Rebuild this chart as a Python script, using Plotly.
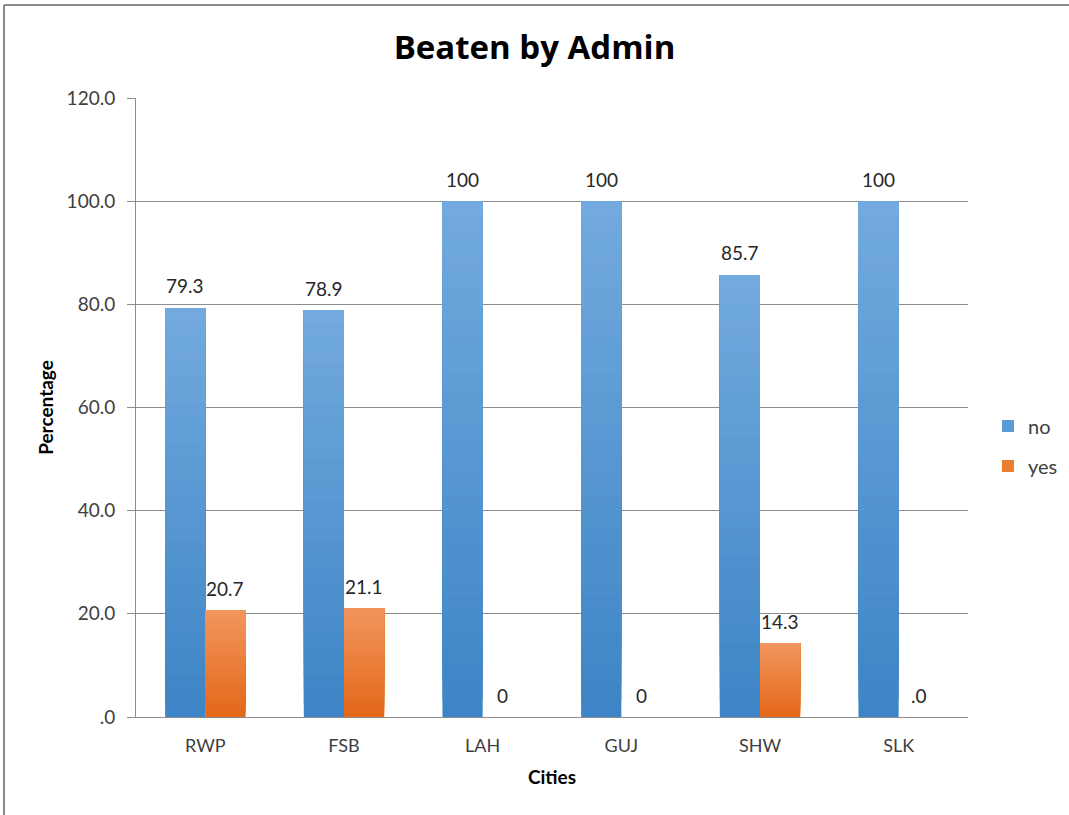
import plotly.graph_objects as go

# Survey results: share of respondents beaten by admin, per city
cities = ["RWP", "FSB", "LAH", "GUJ", "SHW", "SLK"]
no_pct = [79.3, 78.9, 100, 100, 85.7, 100]
yes_pct = [20.7, 21.1, 0, 0, 14.3, 0]
no_labels = ["79.3", "78.9", "100", "100", "85.7", "100"]
yes_labels = ["20.7", "21.1", "0", "0", "14.3", ".0"]
y_ticks = [0, 20, 40, 60, 80, 100, 120]
y_tick_labels = [".0", "20.0", "40.0", "60.0", "80.0", "100.0", "120.0"]

FONT = "Lato, 'Open Sans', sans-serif"
GRID = "#8c8c8c"
TEXT = "#262626"

# Vertical gradient per bar (light at the top, darker at the base)
SERIES = [
    dict(name="no", values=no_pct, labels=no_labels,
         top=(114, 169, 222), bottom=(61, 133, 198), legend=(91, 155, 213), shift=-20),
    dict(name="yes", values=yes_pct, labels=yes_labels,
         top=(241, 149, 92), bottom=(228, 104, 26), legend=(237, 125, 49), shift=20),
]
N_STEPS = 30


def rgb(c):
    return "rgb({},{},{})".format(*c)


def mix(c0, c1, t):
    return rgb([round(a + (b - a) * t) for a, b in zip(c0, c1)])


fig = go.Figure()
for s in SERIES:
    vals = s["values"]
    # legend entry (zero-height bars sharing the series' offset group)
    fig.add_trace(go.Bar(
        x=cities, y=[0] * len(cities), name=s["name"], legendgroup=s["name"],
        offsetgroup=s["name"], marker=dict(color=rgb(s["legend"]), line=dict(width=0)),
        showlegend=True, hoverinfo="skip",
    ))
    # each band runs from its start up to the bar's top; later (lighter)
    # bands are painted over earlier ones, so no seams appear between them
    for k in range(N_STEPS):
        t = k / (N_STEPS - 1)
        fig.add_trace(go.Bar(
            x=cities,
            y=[v * (N_STEPS - k) / N_STEPS for v in vals],
            base=[v * k / N_STEPS for v in vals],
            offsetgroup=s["name"], legendgroup=s["name"], showlegend=False,
            marker=dict(color=mix(s["bottom"], s["top"], t), line=dict(width=0)),
            hoverinfo="skip",
        ))

# Value labels above each bar
annotations = []
for s in SERIES:
    for c, v, lab in zip(cities, s["values"], s["labels"]):
        annotations.append(dict(
            x=c, y=v, xref="x", yref="y", text=lab, showarrow=False,
            xshift=s["shift"], yshift=22, yanchor="middle", xanchor="center",
            font=dict(size=19, color=TEXT, family=FONT),
        ))

# Outer frame lines (top and left edges)
L, R, T, B = 136, 101, 98, 98
W, H = 1069, 815
pw, ph = W - L - R, H - T - B


def px_x(x):
    return (x - L) / pw


def px_y(y):
    return (H - B - y) / ph


shapes = [
    dict(type="line", xref="paper", yref="paper",
         x0=px_x(4), x1=px_x(W), y0=px_y(5), y1=px_y(5),
         line=dict(color="#8a8a8a", width=2)),
    dict(type="line", xref="paper", yref="paper",
         x0=px_x(4), x1=px_x(4), y0=px_y(5), y1=px_y(H),
         line=dict(color="#8a8a8a", width=2)),
]

fig.update_layout(
    width=W, height=H,
    margin=dict(l=L, r=R, t=T, b=B, pad=0, autoexpand=False),
    paper_bgcolor="white", plot_bgcolor="white",
    barmode="group", bargap=0.42, bargroupgap=0,
    font=dict(family=FONT, color=TEXT, size=19),
    title=dict(text="<b>Beaten by Admin</b>", x=0.5, xref="container",
               xanchor="center", y=1 - 47 / H, yanchor="middle",
               font=dict(size=33, color="#000000", family="'Open Sans', Lato, sans-serif")),
    xaxis=dict(
        title=dict(text="<b>Cities</b>", font=dict(size=19, color="#000000"), standoff=16),
        showline=True, linecolor=GRID, linewidth=1,
        ticks="", showgrid=False, ticklabelstandoff=12,
        tickfont=dict(size=18, color="#404040"),
    ),
    yaxis=dict(
        title=dict(text="<b>Percentage</b>", font=dict(size=19, color="#000000"), standoff=7),
        range=[0, 120], tickvals=y_ticks, ticktext=y_tick_labels,
        showline=True, linecolor=GRID, linewidth=1,
        ticks="outside", ticklen=8, tickcolor=GRID, ticklabelstandoff=8,
        showgrid=True, gridcolor=GRID, gridwidth=1, zeroline=False,
        tickfont=dict(size=19, color="#404040"),
    ),
    legend=dict(x=1.024, y=0.438, xanchor="left", yanchor="middle",
                tracegroupgap=11, font=dict(size=20, color="#404040"),
                itemwidth=30),
    annotations=annotations,
    shapes=shapes,
)

fig.write_html("out.html")
